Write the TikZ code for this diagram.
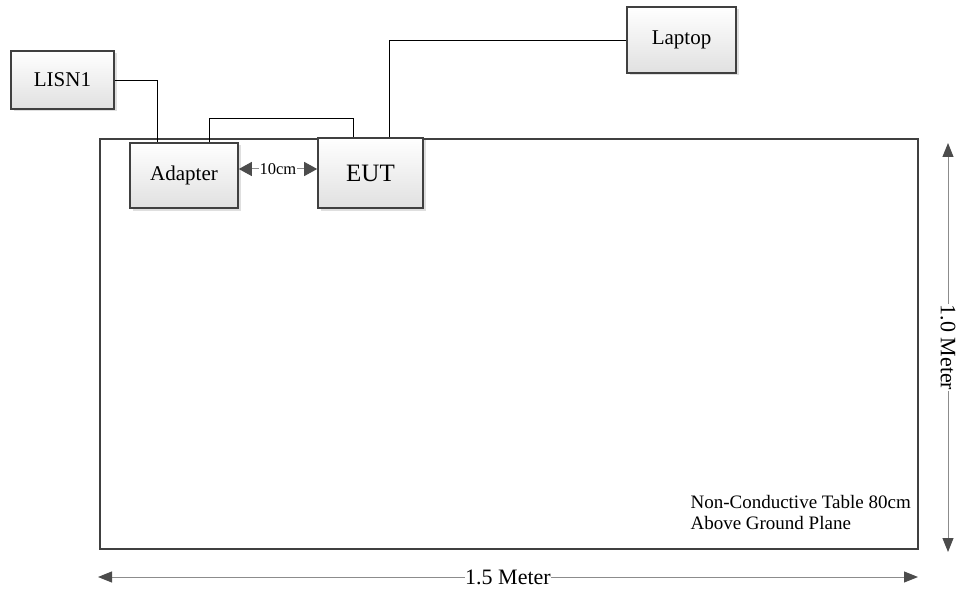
\documentclass[tikz,border=0pt]{standalone}
\usepackage{fontspec}
\setmainfont{Liberation Serif}
\usetikzlibrary{shadows,arrows.meta}
\tikzstyle{device} = [rectangle, draw=black!75, line width=1.6pt, top color=white, bottom color=black!12, drop shadow={opacity=0.25, shadow xshift=2.5pt, shadow yshift=-2.5pt}, font=\fontsize{21}{24}\selectfont, inner sep=0pt]
\tikzstyle{tablebox} = [rectangle, draw=black!75, line width=2.5pt, inner sep=0pt]
\tikzstyle{wire} = [black, line width=0.9pt]
\tikzstyle{dim} = [draw=black!45, line width=1pt, {Triangle[length=14pt,width=11pt,color=black!70]}-{Triangle[length=14pt,width=11pt,color=black!70]}]
\tikzstyle{gap} = [draw=black!45, line width=1pt, {Triangle[length=13pt,width=14pt,color=black!70]}-{Triangle[length=13pt,width=14pt,color=black!70]}]

\begin{document}
\begin{tikzpicture}[x=1pt,y=-1pt]
\useasboundingbox (0,0) rectangle (959,591);

\node(table) [tablebox, minimum width=818pt, minimum height=410pt] at (509,344) {};
\node(lisn) [device, minimum width=103pt, minimum height=58pt] at (62.5,80) {LISN1};
\node(adapter) [device, minimum width=108pt, minimum height=65pt] at (184,175.5) {Adapter};
\node(eut) [device, minimum width=105pt, minimum height=70pt, font=\fontsize{25}{28}\selectfont] at (370.5,173) {EUT};
\node(laptop) [device, minimum width=109pt, minimum height=66pt] at (681.5,40) {Laptop};
\node(note) [anchor=west, align=left, font=\fontsize{19}{21}\selectfont] at (687,512) {Non-Conductive Table 80cm\\Above Ground Plane};

\coordinate(vtop) at (948,143);
\coordinate(vbot) at (948,552);
\coordinate(hleft) at (98,577);
\coordinate(hright) at (918,577);

\draw [wire] (lisn.east) -| ([xshift=-27pt]adapter.north);
\draw [wire] ([xshift=25pt]adapter.north) -- ++(0,-24) -| ([xshift=-17.5pt]eut.north);
\draw [wire] ([xshift=18.5pt]eut.north) |- (laptop.west);

\draw [gap] ([yshift=6.5pt]adapter.east) -- node[fill=white, inner sep=0.5pt, font=\fontsize{16.5}{18}\selectfont] {10cm} ([yshift=6.5pt]adapter.east -| eut.west);
\draw [dim] (vtop) -- node[fill=white, inner sep=0.5pt, rotate=-90, font=\fontsize{22}{24}\selectfont] {1.0 Meter} (vbot);
\draw [dim] (hleft) -- node[fill=white, inner sep=0.5pt, font=\fontsize{22}{24}\selectfont] {1.5 Meter} (hright);

\end{tikzpicture}
\end{document}
